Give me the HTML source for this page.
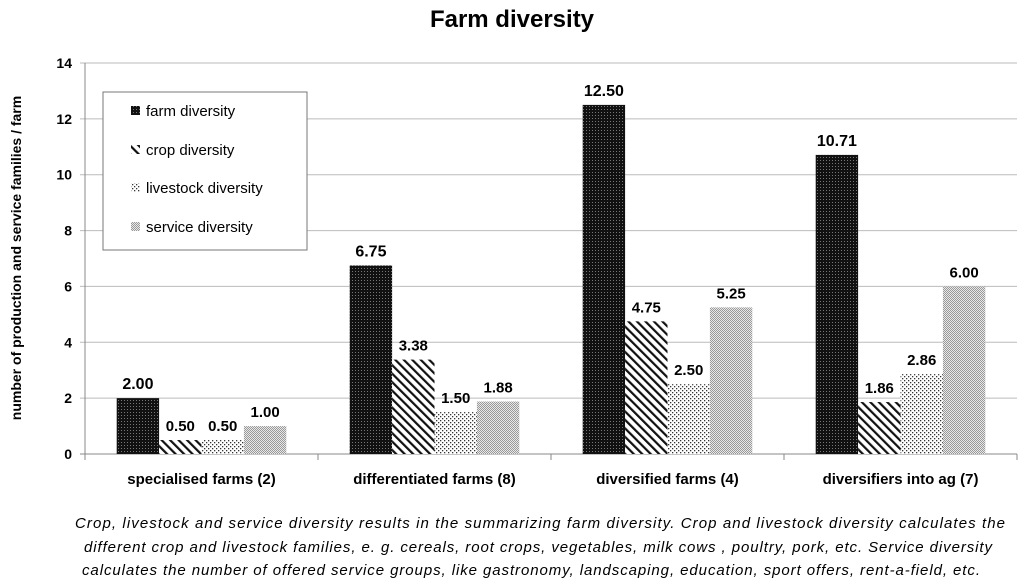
<!DOCTYPE html>
<html><head><meta charset="utf-8"><style>
body{margin:0;background:#fff;}
svg{display:block;font-family:"Liberation Sans",sans-serif;}
</style></head><body>
<svg width="1024" height="587" viewBox="0 0 1024 587" xmlns="http://www.w3.org/2000/svg">
<defs>
<pattern id="pFarm" width="3" height="3" patternUnits="userSpaceOnUse"><rect width="3" height="3" fill="#111"/><rect x="1" y="1" width="1" height="1" fill="#777"/></pattern>
<pattern id="pCrop" width="6" height="6" patternUnits="userSpaceOnUse" patternTransform="rotate(-45)"><rect width="6" height="6" fill="#fff"/><rect width="2.2" height="6" fill="#111"/></pattern>
<pattern id="pLive" width="4" height="4" patternUnits="userSpaceOnUse"><rect width="4" height="4" fill="#fff"/><rect x="0" y="0" width="1.3" height="1.3" fill="#333"/><rect x="2" y="2" width="1.3" height="1.3" fill="#333"/></pattern>
<pattern id="pServ" width="2" height="2" patternUnits="userSpaceOnUse"><rect width="2" height="2" fill="#e8e8e8"/><rect width="1" height="1" fill="#999"/><rect x="1" y="1" width="1" height="1" fill="#999"/></pattern>
</defs>
<text x="512" y="27" text-anchor="middle" font-size="24" font-weight="bold" fill="#000">Farm diversity</text>
<g id="grid"></g>
<g id="bars"></g>
<text transform="translate(21,258) rotate(-90)" text-anchor="middle" font-size="14" font-weight="bold">number of production and service families / farm</text>
<g>
<rect x="103" y="92" width="204" height="158" fill="#fff" stroke="#777" stroke-width="1"/>
<rect x="131" y="106" width="9" height="9" fill="url(#pFarm)"/><text x="146" y="116" font-size="15">farm diversity</text>
<rect x="131" y="145" width="9" height="9" fill="url(#pCrop)"/><text x="146" y="155" font-size="15">crop diversity</text>
<rect x="131" y="183" width="9" height="9" fill="url(#pLive)"/><text x="146" y="193" font-size="15">livestock diversity</text>
<rect x="131" y="222" width="9" height="9" fill="url(#pServ)"/><text x="146" y="232" font-size="15">service diversity</text>
</g>
<g font-size="15" font-style="italic">
<text x="75" y="528" textLength="930" lengthAdjust="spacing">Crop, livestock and service diversity results in the summarizing farm diversity. Crop and livestock diversity calculates the</text>
<text x="84" y="552" textLength="908" lengthAdjust="spacing">different crop and livestock families, e. g. cereals, root crops, vegetables, milk cows , poultry, pork, etc. Service diversity</text>
<text x="82" y="575" textLength="898" lengthAdjust="spacing">calculates the number of offered service groups, like gastronomy, landscaping, education, sport offers, rent-a-field, etc.</text>
</g>
</svg>
<script>
const categories=["specialised farms (2)","differentiated farms (8)","diversified farms (4)","diversifiers into ag (7)"];
const farmVals=[2.00,6.75,12.50,10.71];
const cropVals=[0.50,3.38,4.75,1.86];
const liveVals=[0.50,1.50,2.50,2.86];
const servVals=[1.00,1.88,5.25,6.00];
const yTicks=[0,2,4,6,8,10,12,14];
const NS="http://www.w3.org/2000/svg";
const X0=85,X1=1017,Y0=454,Y1=63,YMAX=14;
const y=v=>Y0-(v/YMAX)*(Y0-Y1);
const gw=(X1-X0)/categories.length;
function mk(t,a,p){const e=document.createElementNS(NS,t);for(const k in a)e.setAttribute(k,a[k]);p.appendChild(e);return e;}
const grid=document.getElementById('grid'),bars=document.getElementById('bars');
yTicks.forEach(t=>{
 const l=mk('line',{x1:X0-5,x2:X1,y1:y(t),y2:y(t),stroke:t===0?'#888':'#bbb','stroke-width':1},grid);
 
 
 const tx=mk('text',{x:72,y:y(t)+5,'text-anchor':'end','font-size':14,'font-weight':'bold'},grid);
 tx.textContent=t;
 
 
});
const ax=mk('line',{x1:X0,x2:X0,y1:Y1,y2:Y0,stroke:'#888'},grid);


for(let i=0;i<=categories.length;i++){const tk=mk('line',{x1:X0+i*gw,x2:X0+i*gw,y1:Y0,y2:Y0+6,stroke:'#888'},grid);
 
 }
const series=[[farmVals,'pFarm','farm'],[cropVals,'pCrop','crop'],[liveVals,'pLive','livestock'],[servVals,'pServ','service']];
const bw=42.4;
categories.forEach((c,i)=>{
 const cx=X0+gw*(i+0.5);
 const start=cx-2*bw;
 series.forEach((s,j)=>{
  const v=s[0][i],bx=start+j*bw;
  const r=mk('rect',{x:bx,y:y(v),width:bw,height:Y0-y(v),fill:'url(#'+s[1]+')'},bars);
  
  
  const lb=mk('text',{x:bx+bw/2,y:y(v)-9,'text-anchor':'middle','font-size':j===0?16:15,'font-weight':'bold'},bars);
  lb.textContent=v.toFixed(2);
  
  
 });
 const ct=mk('text',{x:cx,y:484,'text-anchor':'middle','font-size':15,'font-weight':'bold'},bars);
 ct.textContent=c;
 
 
});
</script>
</body></html>
